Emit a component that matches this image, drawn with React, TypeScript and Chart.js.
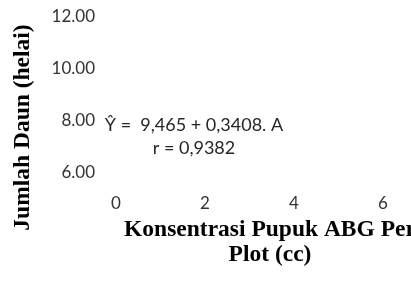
import React, { useEffect, useRef } from "react";
import { Chart, registerables } from "chart.js";

Chart.register(...registerables);

// ---- data ----
const xTickValues = [0, 2, 4, 6];
const yTickValues = [6, 8, 10, 12];
const xMin = 0;
const xMax = 6.92;
const yMin = 3.5;
const yMax = 12;
// no markers are visible in the reference
const seriesPoints: { x: number; y: number }[] = [];
const xTitleLines = ["Konsentrasi Pupuk ABG Per", "Plot (cc)"];
const yTitleText = "Jumlah Daun (helai)";
const equationLines = ["Ŷ =  9,465 + 0,3408. A", "r = 0,9382"];

const equationPlugin = {
  id: "equationText",
  afterDraw(chart: any) {
    const ctx = chart.ctx;
    ctx.save();
    ctx.font = "18px Lato";
    ctx.fillStyle = "#262626";
    ctx.textAlign = "center";
    ctx.textBaseline = "middle";
    equationLines.forEach((t, i) => ctx.fillText(t, 194, 125 + i * 23));
    ctx.restore();
  },
};

export default function App() {
  const ref = useRef<HTMLCanvasElement | null>(null);

  useEffect(() => {
    if (!ref.current) return;
    const chart = new Chart(ref.current, {
      type: "scatter",
      data: {
        datasets: [
          {
            data: seriesPoints,
            pointRadius: 0,
            showLine: false,
          },
        ],
      },
      options: {
        responsive: false,
        animation: false,
        devicePixelRatio: 1,
        layout: { padding: { left: 0, top: 17, right: 16, bottom: 0 } },
        plugins: {
          legend: { display: false },
          tooltip: { enabled: false },
        },
        scales: {
          x: {
            type: "linear",
            min: xMin,
            max: xMax,
            grid: { display: false, drawTicks: false },
            border: { display: false },
            afterBuildTicks: (s: any) => {
              s.ticks = xTickValues.map((v) => ({ value: v }));
            },
            afterFit: (s: any) => {
              s.height = 45;
            },
            ticks: {
              mirror: true,
              padding: 24.6,
              autoSkip: false,
              maxRotation: 0,
              color: "#333333",
              font: { family: "Lato", size: 17 },
              callback: (v: any) => String(v),
            },
            title: {
              display: true,
              text: xTitleLines,
              color: "#000000",
              font: { family: "'Liberation Serif'", size: 23.5, weight: "bold", lineHeight: 24.5 / 23.5 },
              padding: { top: 0, bottom: 16.25 },
            },
          },
          y: {
            type: "linear",
            min: yMin,
            max: yMax,
            grid: {
              display: true,
              drawOnChartArea: false,
              drawTicks: true,
              tickLength: 21,
              color: "rgba(0,0,0,0)",
            },
            border: { display: false },
            afterBuildTicks: (s: any) => {
              s.ticks = yTickValues.map((v) => ({ value: v }));
            },
            afterFit: (s: any) => {
              s.width = 116;
            },
            ticks: {
              padding: 0,
              autoSkip: false,
              color: "#333333",
              font: { family: "Lato", size: 17 },
              callback: (v: any) => Number(v).toFixed(2),
            },
            title: {
              display: true,
              text: yTitleText,
              color: "#000000",
              font: { family: "'Liberation Serif'", size: 23.5, weight: "bold", lineHeight: 1 },
              padding: { top: 11, bottom: 0 },
            },
          },
        },
      },
      plugins: [equationPlugin],
    } as any);
    return () => chart.destroy();
  }, []);

  return (
    <div
      style={{
        position: "fixed",
        left: 0,
        top: 0,
        width: 411,
        height: 283,
        overflow: "hidden",
        background: "#ffffff",
      }}
    >
      <canvas ref={ref} width={440} height={283} style={{ display: "block" }} />
    </div>
  );
}
